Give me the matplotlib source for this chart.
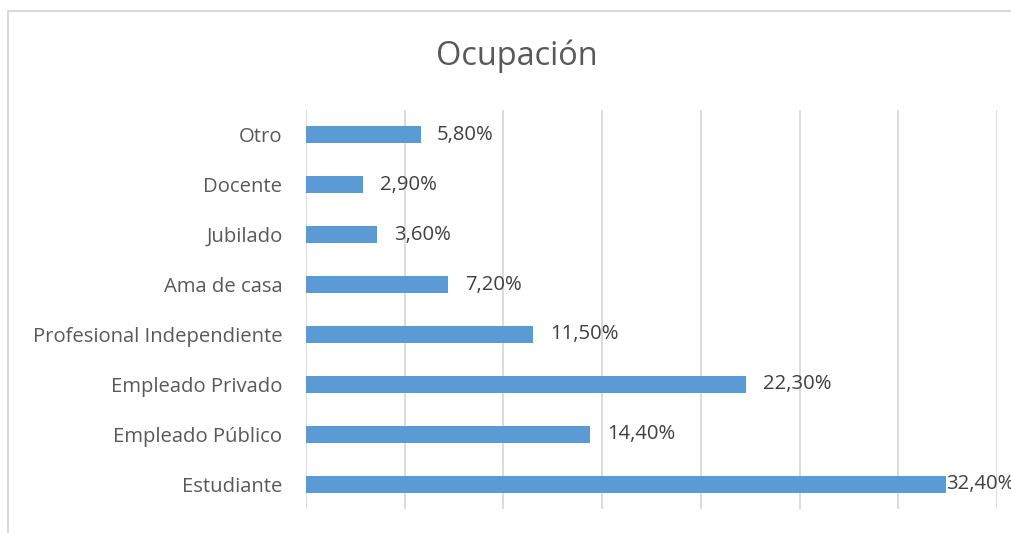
import matplotlib.pyplot as plt
from matplotlib.patches import Rectangle

categories = ['Estudiante', 'Empleado Público', 'Empleado Privado', 'Profesional Independiente',
              'Ama de casa', 'Jubilado', 'Docente', 'Otro']
values = [32.4, 14.4, 22.3, 11.5, 7.2, 3.6, 2.9, 5.8]
labels = ['32,40%', '14,40%', '22,30%', '11,50%', '7,20%', '3,60%', '2,90%', '5,80%']

W, H = 1011, 533
plt.rcParams['font.family'] = ['Open Sans', 'DejaVu Sans']
fig = plt.figure(figsize=(W / 100, H / 100), dpi=100)

# chart border (Excel style, cut off at right/bottom)
fig.patches.append(Rectangle((8 / W, -0.1), 1.2, 1 - 11 / H + 0.1, transform=fig.transFigure,
                             fill=False, edgecolor='#D9D9D9', linewidth=1.5))

ax = fig.add_axes([306 / W, 1 - 509 / H, (997 - 306) / W, (509 - 110) / H])
ypos = range(len(categories))
ax.barh(ypos, values, height=0.34, color='#5B9BD5', zorder=3)
ax.set_xlim(0, 35)
ax.set_ylim(-0.5, len(categories) - 0.5)
ax.set_xticks(range(0, 36, 5))
ax.set_xticklabels([])
ax.xaxis.grid(True, color='#D9D9D9', linewidth=1.3, zorder=0)
ax.tick_params(length=0)
ax.set_yticks(list(ypos))
ax.set_yticklabels(categories, fontsize=14.6, color='#595959')
ax.tick_params(axis='y', pad=17)
for s in ax.spines.values():
    s.set_visible(False)

for y, v, lab in zip(ypos, values, labels):
    ax.annotate(lab, (v, y), xytext=(v < 30 and 12 or 0.5, 0), textcoords='offset points',
                va='center', ha='left', fontsize=14.6, color='#404040', annotation_clip=False)

fig.text(517 / W, 1 - 56 / H, 'Ocupación', ha='center', va='center', fontsize=23.4, color='#595959')

fig.savefig('out.png', dpi=100)
